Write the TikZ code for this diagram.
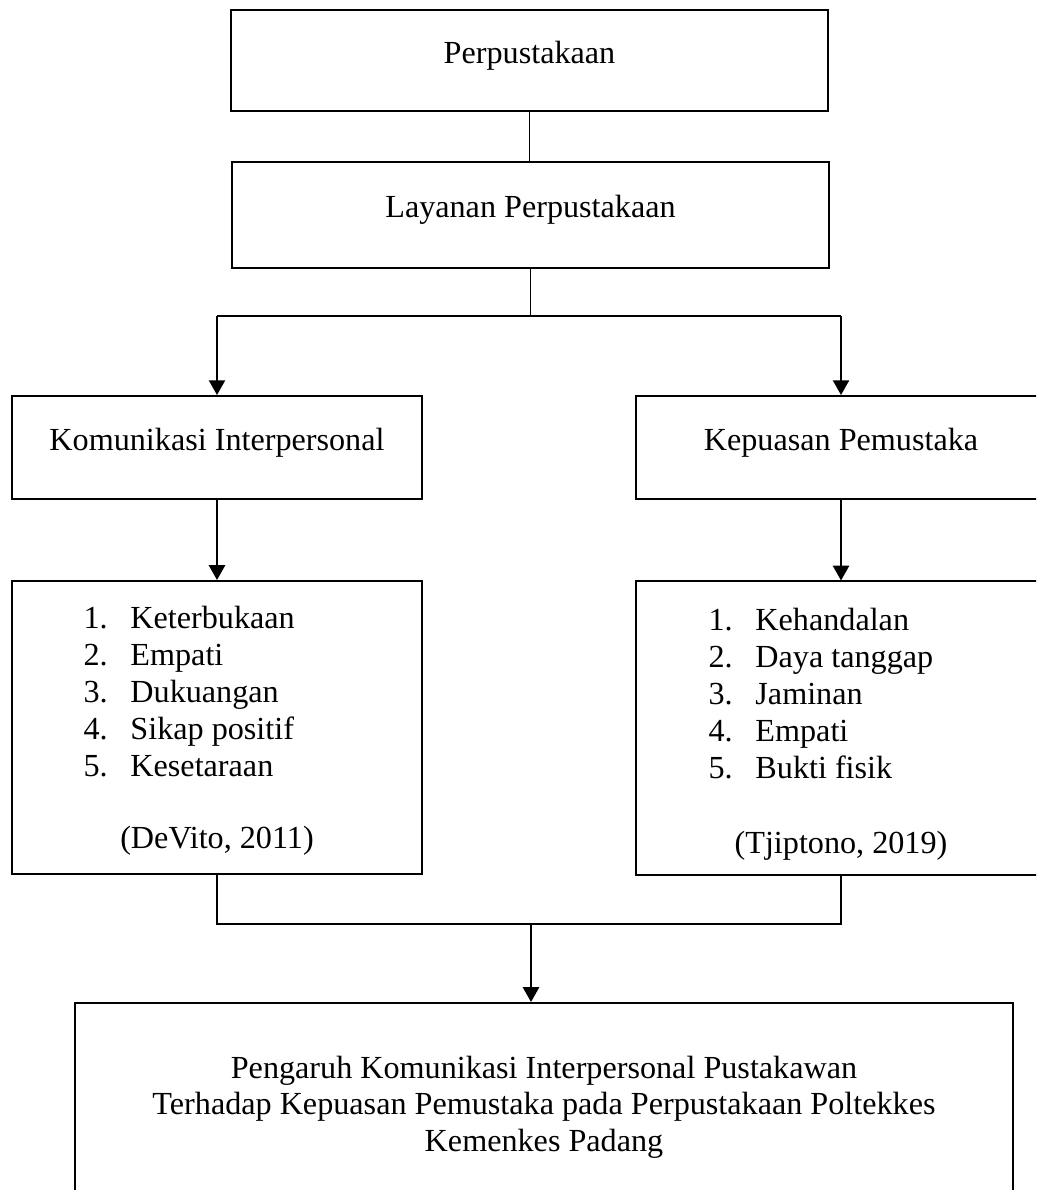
\documentclass[tikz,border=0pt]{standalone}
\usepackage{fontspec}
\setmainfont{Liberation Serif}
\usetikzlibrary{arrows.meta}
\newcommand{\nomor}[1]{\makebox[17.5pt][l]{#1}}

\begin{document}
\begin{tikzpicture}[x=0.373pt, y=-0.373pt,
    box/.style={draw, line width=0.75pt, text height=8pt, text depth=6pt, font=\fontsize{12pt}{13.8pt}\selectfont},
    items/.style={anchor=north west, inner sep=0pt, align=left, font=\fontsize{12pt}{13.8pt}\selectfont},
    sumber/.style={font=\fontsize{12pt}{13.8pt}\selectfont},
    garis/.style={line width=0.4pt},
    panah/.style={line width=0.8pt, -{Triangle[width=6pt,length=5.5pt]}}]

    \clip (0,0) rectangle (1036,1190);

    % kotak utama
    \node[box, minimum width=222.7pt, minimum height=37.7pt] (perpustakaan) at (529.5,60.5) {Perpustakaan};
    \node[box, minimum width=222.7pt, minimum height=39.5pt] (layanan) at (530.5,215) {Layanan Perpustakaan};
    \node[box, minimum width=152.9pt, minimum height=38.4pt] (komunikasi) at (217,447.5) {Komunikasi Interpersonal};
    \node[box, minimum width=152.9pt, minimum height=38.4pt] (kepuasan) at (841,447.5) {Kepuasan Pemustaka};

    % indikator
    \node[box, minimum width=152.9pt, minimum height=109.3pt] (dimkom) at (217,727.5) {};
    \node[box, minimum width=152.9pt, minimum height=109.3pt] (dimkep) at (841,728) {};
    \node[items] (itemkom) at (83,606) {\nomor{1.}Keterbukaan\\ \nomor{2.}Empati\\ \nomor{3.}Dukuangan\\ \nomor{4.}Sikap positif\\ \nomor{5.}Kesetaraan};
    \node[items] (itemkep) at (708,608) {\nomor{1.}Kehandalan\\ \nomor{2.}Daya tanggap\\ \nomor{3.}Jaminan\\ \nomor{4.}Empati\\ \nomor{5.}Bukti fisik};
    \node[sumber] (sumberkom) at (217,841) {(DeVito, 2011)};
    \node[sumber] (sumberkep) at (841,846) {(Tjiptono, 2019)};

    % hasil
    \node[draw, line width=0.75pt, minimum width=349.9pt, minimum height=77.6pt, align=center, font=\fontsize{12pt}{13.6pt}\selectfont] (hasil) at (544,1107)
        {Pengaruh Komunikasi Interpersonal Pustakawan\\ Terhadap Kepuasan Pemustaka pada Perpustakaan Poltekkes\\ Kemenkes Padang};

    \coordinate (cabang) at (529.5,316);
    \coordinate (gabung) at (531,924);

    \draw[garis] (perpustakaan.south) -- (perpustakaan.south |- layanan.north);
    \draw[garis] (layanan.south) -- (layanan.south |- cabang);
    \draw[garis] (komunikasi.north |- cabang) -- (kepuasan.north |- cabang);
    \draw[panah] (komunikasi.north |- cabang) -- (komunikasi);
    \draw[panah] (kepuasan.north |- cabang) -- (kepuasan);
    \draw[panah] (komunikasi) -- (dimkom);
    \draw[panah] (kepuasan) -- (dimkep);
    \draw[garis] (dimkom.south) |- (gabung) -| (dimkep.south);
    \draw[panah] (gabung) -- (gabung |- hasil.north);

\end{tikzpicture}
\end{document}
